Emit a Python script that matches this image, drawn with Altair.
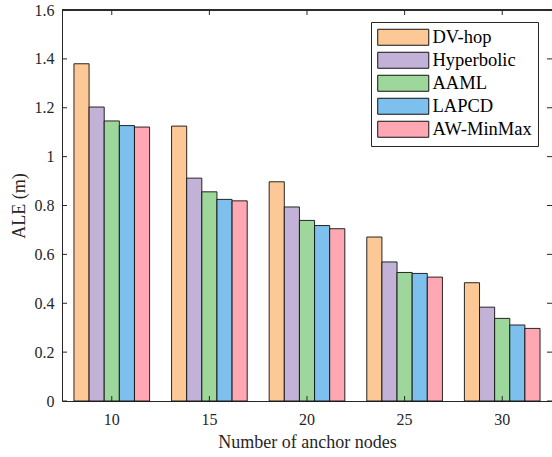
import altair as alt
import pandas as pd

anchors = [10, 15, 20, 25, 30]
methods = ["DV-hop", "Hyperbolic", "AAML", "LAPCD", "AW-MinMax"]
colors = ["#FCC996", "#C3B2D7", "#9ED79B", "#7DC0ED", "#FFA8B4"]
dv_hop = [1.38, 1.125, 0.897, 0.671, 0.484]
hyperbolic = [1.203, 0.912, 0.794, 0.569, 0.384]
aaml = [1.146, 0.856, 0.739, 0.526, 0.338]
lapcd = [1.127, 0.825, 0.718, 0.522, 0.311]
aw_minmax = [1.121, 0.819, 0.705, 0.507, 0.297]
y_ticks = [0, 0.2, 0.4, 0.6, 0.8, 1.0, 1.2, 1.4, 1.6]

series = [dv_hop, hyperbolic, aaml, lapcd, aw_minmax]
rows = []
for m, vals in zip(methods, series):
    for a, v in zip(anchors, vals):
        rows.append({"anchors": a, "method": m, "ALE": v})
df = pd.DataFrame(rows)
xt = pd.DataFrame({"anchors": anchors})
yt = pd.DataFrame({"ALE": y_ticks})

W, H = 490, 391
FONT = "Liberation Serif"
TXT = "#262626"

xscale = alt.Scale(paddingInner=0.225, paddingOuter=0.1225)
yscale = alt.Scale(domain=[0, 1.6], nice=False)

# legend swatch: 51 x 16 px rectangle drawn with symbolSize 256 (unit = 8 px)
sym = "M-3.19,-1L3.19,-1L3.19,1L-3.19,1Z"

bars = alt.Chart(df).mark_bar(stroke="#111111", strokeWidth=1, strokeOpacity=0.9).encode(
    x=alt.X("anchors:O", scale=xscale,
            axis=alt.Axis(title="Number of anchor nodes", labelAngle=0, tickSize=0,
                          labelPadding=10, titlePadding=6)),
    xOffset=alt.XOffset("method:N", sort=methods, scale=alt.Scale(paddingInner=0, paddingOuter=0)),
    y=alt.Y("ALE:Q", scale=yscale,
            axis=alt.Axis(title="ALE (m)", values=y_ticks, format="~g", tickSize=0,
                          labelPadding=8, titlePadding=6, grid=False)),
    color=alt.Color("method:N", sort=methods,
                    scale=alt.Scale(domain=methods, range=colors),
                    legend=alt.Legend(title=None, orient="none", legendX=309, legendY=12,
                                      symbolType=sym, symbolSize=256, symbolOffset=17,
                                      symbolStrokeColor="#111111", symbolStrokeWidth=1,
                                      symbolOpacity=1, labelFontSize=18.5, labelFont=FONT,
                                      labelColor="#000000", labelOffset=20, rowPadding=2,
                                      padding=6, strokeColor=TXT, fillColor="white",
                                      labelLimit=300)),
)

ytick_left = alt.Chart(yt).mark_rule(color=TXT, strokeWidth=1).encode(
    y=alt.Y("ALE:Q", scale=yscale), x=alt.value(0), x2=alt.value(5))
ytick_right = alt.Chart(yt).mark_rule(color=TXT, strokeWidth=1).encode(
    y=alt.Y("ALE:Q", scale=yscale), x=alt.value(W - 5), x2=alt.value(W))
xtick_bot = alt.Chart(xt).mark_rule(color=TXT, strokeWidth=1).encode(
    x=alt.X("anchors:O", scale=xscale), y=alt.value(H), y2=alt.value(H - 5))
xtick_top = alt.Chart(xt).mark_rule(color=TXT, strokeWidth=1).encode(
    x=alt.X("anchors:O", scale=xscale), y=alt.value(0), y2=alt.value(5))
top_line = alt.Chart(xt).mark_rule(color=TXT, strokeWidth=1).encode(
    x=alt.value(0), x2=alt.value(W), y=alt.value(0))

chart = alt.layer(bars, ytick_left, ytick_right, xtick_bot, xtick_top, top_line).properties(
    width=W, height=H,
    autosize=alt.AutoSizeParams(type="none"),
    padding={"left": 62, "top": 10, "right": 0, "bottom": 56},
    background="white",
).configure_view(stroke=None).configure_axis(
    labelFont=FONT, titleFont=FONT, labelFontSize=16, titleFontSize=18,
    labelColor=TXT, titleColor=TXT, domainColor=TXT, domainWidth=1,
    titleFontWeight="normal",
)

chart.save("out.html", embed_options={"renderer": "svg", "actions": False})
